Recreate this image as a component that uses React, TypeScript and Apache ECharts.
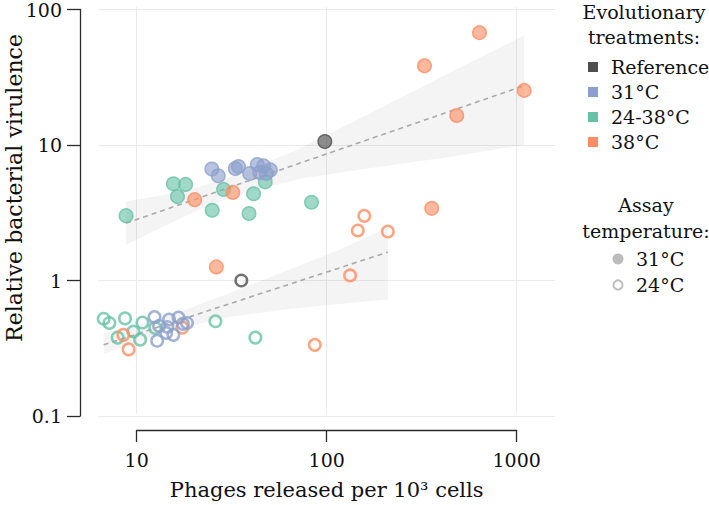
import React, { useEffect, useRef } from "react";
import * as echarts from "echarts";

// ---- data ----
const xAxisTicks = [10, 100, 1000];
const yAxisTicks = [0.1, 1, 10, 100];

const treatmentNames = ["Reference", "31°C", "24-38°C", "38°C"];
const treatmentColors = ["#4f4f4f", "#8da0cb", "#66c2a5", "#fc8d62"];
const assayNames = ["31°C", "24°C"];

// Assay at 31°C (filled)
const reference31 = [[98, 10.6]];
const blue31 = [
  [25.0, 6.64], [27.0, 5.93], [33.2, 6.7], [34.5, 6.93], [39.5, 6.16],
  [43.3, 7.18], [46.8, 7.01], [44.6, 6.26], [48.3, 6.16], [50.7, 6.55],
];
const green31 = [
  [8.86, 3.01], [15.7, 5.18], [18.2, 5.12], [16.5, 4.16], [28.8, 4.7],
  [25.1, 3.3], [39.2, 3.12], [41.4, 4.37], [47.7, 5.35], [83.4, 3.78],
];
const orange31 = [
  [20.3, 3.95], [32.2, 4.47], [26.4, 1.26], [327, 38.4], [636, 67.5],
  [1092, 25.3], [483, 16.5], [357, 3.41],
];

// Assay at 24°C (open)
const reference24 = [[35.7, 1.0]];
const blue24 = [
  [12.5, 0.537], [13.2, 0.462], [14.9, 0.515], [16.7, 0.533], [18.5, 0.486],
  [14.4, 0.41], [15.7, 0.397], [12.9, 0.359], [14.6, 0.454], [17.6, 0.479],
];
const green24 = [
  [6.76, 0.522], [7.24, 0.486], [8.75, 0.525], [10.8, 0.49], [9.68, 0.42],
  [8.0, 0.379], [10.5, 0.366], [12.6, 0.447], [26.1, 0.5], [42.3, 0.379],
];
const orange24 = [
  [17.5, 0.449], [8.57, 0.397], [9.14, 0.31], [86.8, 0.335], [133, 1.09],
  [146, 2.34], [158, 3.0], [210, 2.3],
];

// Fitted lines and confidence bands
const upperFit = [[8.86, 2.65], [1092, 27.4]];
const upperBandX = [8.86, 13.26, 21.54, 34.97, 72.35, 190.8, 445.7, 1092];
const upperBandLow = [1.83, 2.42, 3.34, 4.3, 5.63, 6.9, 8.17, 10.05];
const upperBandHigh = [3.85, 4.23, 4.92, 6.13, 9.43, 18.7, 34.3, 64.5];

const lowerFit = [[6.76, 0.335], [210, 1.62]];
const lowerBandX = [6.75, 10.4, 16.9, 30.97, 64.1, 117.5, 210.2];
const lowerBandLow = [0.2865, 0.3526, 0.4467, 0.538, 0.616, 0.67, 0.725];
const lowerBandHigh = [0.4058, 0.478, 0.585, 0.807, 1.204, 1.696, 2.46];

// ---- styling ----
const FONT = "DejaVu Serif";
const TXT = "#111111";
const AXIS = "#2a2a2a";
const GRIDC = "#ebebeb";

function hexA(hex: string, a: number) {
  const n = parseInt(hex.slice(1), 16);
  return `rgba(${(n >> 16) & 255},${(n >> 8) & 255},${n & 255},${a})`;
}

function logLabel(v: number) {
  const e = Math.round(Math.log10(v));
  return e < 0 ? Math.pow(10, e).toFixed(-e) : String(Math.round(Math.pow(10, e)));
}

function bandSeries(bx: number[], lo: number[], hi: number[]) {
  return {
    type: "custom",
    xAxisIndex: 0,
    yAxisIndex: 0,
    z: 1,
    silent: true,
    data: bx.map((x, i) => [x, lo[i], hi[i]]),
    encode: { x: 0, y: [1, 2] },
    renderItem: (params: any, api: any) => {
      if (params.dataIndex !== 0) return null;
      const top = bx.map((x, i) => api.coord([x, hi[i]]));
      const bot = bx.map((x, i) => api.coord([x, lo[i]])).reverse();
      return {
        type: "polygon",
        shape: { points: top.concat(bot) },
        style: { fill: "rgba(0,0,0,0.045)" },
      };
    },
  };
}

function fitSeries(d: number[][]) {
  return {
    type: "line",
    xAxisIndex: 0,
    yAxisIndex: 0,
    z: 2,
    silent: true,
    symbol: "none",
    data: d,
    lineStyle: { color: "#aaaaaa", width: 1.6, type: [5, 4] },
  };
}

function scatter(d: number[][], color: string, filled: boolean, name: string) {
  return {
    type: "scatter",
    name,
    xAxisIndex: 0,
    yAxisIndex: 0,
    z: 3,
    silent: true,
    data: d,
    symbol: "circle",
    symbolSize: filled ? 13.5 : 11.5,
    itemStyle: filled
      ? { color: hexA(color, 0.78), borderColor: color, borderWidth: 1.5 }
      : { color: "rgba(255,255,255,0)", borderColor: color, borderWidth: 2.5 },
  };
}

function legendGraphics() {
  const els: any[] = [];
  const txt = (text: string, x: number, y: number, align: string) => ({
    type: "text",
    x,
    y,
    style: {
      text,
      fontSize: 19,
      fontFamily: FONT,
      fill: TXT,
      align,
      verticalAlign: "middle",
      textAlign: align,
      textVerticalAlign: "middle",
    },
  });
  els.push(txt("Evolutionary", 644, 12, "center"));
  els.push(txt("treatments:", 644, 37, "center"));
  treatmentNames.forEach((n, i) => {
    const cy = 67 + i * 25;
    els.push({
      type: "rect",
      shape: { x: 588, y: cy - 5, width: 10, height: 10 },
      style: { fill: treatmentColors[i] },
    });
    els.push(txt(n, 611, cy, "left"));
  });
  els.push(txt("Assay", 646, 205, "center"));
  els.push(txt("temperature:", 646, 231, "center"));
  els.push({
    type: "circle",
    shape: { cx: 618, cy: 259, r: 5.5 },
    style: { fill: "#bdbdbd" },
  });
  els.push({
    type: "circle",
    shape: { cx: 618, cy: 285, r: 4.6 },
    style: { fill: "none", stroke: "#bdbdbd", lineWidth: 2 },
  });
  els.push(txt(assayNames[0], 636, 259, "left"));
  els.push(txt(assayNames[1], 636, 285, "left"));
  // y axis title
  els.push({
    type: "text",
    x: 14,
    y: 188,
    rotation: Math.PI / 2,
    style: {
      text: "Relative bacterial virulence",
      fontSize: 22,
      fontFamily: FONT,
      fill: TXT,
      align: "center",
      verticalAlign: "middle",
      textAlign: "center",
      textVerticalAlign: "middle",
    },
  });
  return els;
}

export default function App() {
  const ref = useRef<HTMLDivElement>(null);
  useEffect(() => {
    if (!ref.current) return;
    const chart = echarts.init(ref.current, null, { renderer: "svg" });
    const option: any = {
      animation: false,
      backgroundColor: "#ffffff",
      textStyle: { fontFamily: FONT },
      grid: [
        { left: 98, top: 7, width: 457, height: 409 },
        { left: 136.7, top: 7, width: 380, height: 409 },
      ],
      xAxis: [
        {
          gridIndex: 0,
          type: "log",
          logBase: 10,
          min: Math.pow(10, 0.8),
          max: Math.pow(10, 3.2),
          axisLine: { show: false },
          axisTick: { show: false },
          axisLabel: { show: false },
          splitLine: { show: false },
        },
        {
          gridIndex: 1,
          type: "log",
          logBase: 10,
          min: xAxisTicks[0],
          max: xAxisTicks[xAxisTicks.length - 1],
          position: "bottom",
          offset: 16,
          axisLine: { show: true, onZero: false, lineStyle: { color: AXIS, width: 1.3 } },
          axisTick: { show: true, length: 12, lineStyle: { color: AXIS, width: 1.3 } },
          axisLabel: {
            show: true,
            margin: 20,
            fontSize: 19,
            fontFamily: FONT,
            color: TXT,
            showMinLabel: true,
            showMaxLabel: true,
            formatter: logLabel,
          },
          splitLine: { show: true, lineStyle: { color: GRIDC, width: 1 } },
          name: "Phages released per 10³ cells",
          nameLocation: "middle",
          nameGap: 49,
          nameTextStyle: { fontSize: 21, fontFamily: FONT, color: TXT },
        },
      ],
      yAxis: [
        {
          gridIndex: 0,
          type: "log",
          logBase: 10,
          min: yAxisTicks[0],
          max: yAxisTicks[yAxisTicks.length - 1],
          offset: 18,
          axisLine: { show: true, onZero: false, lineStyle: { color: AXIS, width: 1.3 } },
          axisTick: { show: true, length: 13, lineStyle: { color: AXIS, width: 1.3 } },
          axisLabel: {
            show: true,
            margin: 18,
            fontSize: 19,
            fontFamily: FONT,
            color: TXT,
            showMinLabel: true,
            showMaxLabel: true,
            formatter: logLabel,
          },
          splitLine: { show: true, lineStyle: { color: GRIDC, width: 1 } },
        },
        {
          gridIndex: 1,
          type: "log",
          min: yAxisTicks[0],
          max: yAxisTicks[yAxisTicks.length - 1],
          show: false,
        },
      ],
      series: [
        bandSeries(upperBandX, upperBandLow, upperBandHigh),
        bandSeries(lowerBandX, lowerBandLow, lowerBandHigh),
        fitSeries(upperFit),
        fitSeries(lowerFit),
        scatter(green24, treatmentColors[2], false, "24-38°C / 24°C"),
        scatter(orange24, treatmentColors[3], false, "38°C / 24°C"),
        scatter(blue24, treatmentColors[1], false, "31°C / 24°C"),
        scatter(reference24, treatmentColors[0], false, "Reference / 24°C"),
        scatter(green31, treatmentColors[2], true, "24-38°C / 31°C"),
        scatter(orange31, treatmentColors[3], true, "38°C / 31°C"),
        scatter(blue31, treatmentColors[1], true, "31°C / 31°C"),
        scatter(reference31, treatmentColors[0], true, "Reference / 31°C"),
      ],
      graphic: legendGraphics(),
    };
    chart.setOption(option);
    return () => chart.dispose();
  }, []);
  return (
    <div
      ref={ref}
      style={{ position: "fixed", left: 0, top: 0, width: 709, height: 505, background: "#fff" }}
    />
  );
}
